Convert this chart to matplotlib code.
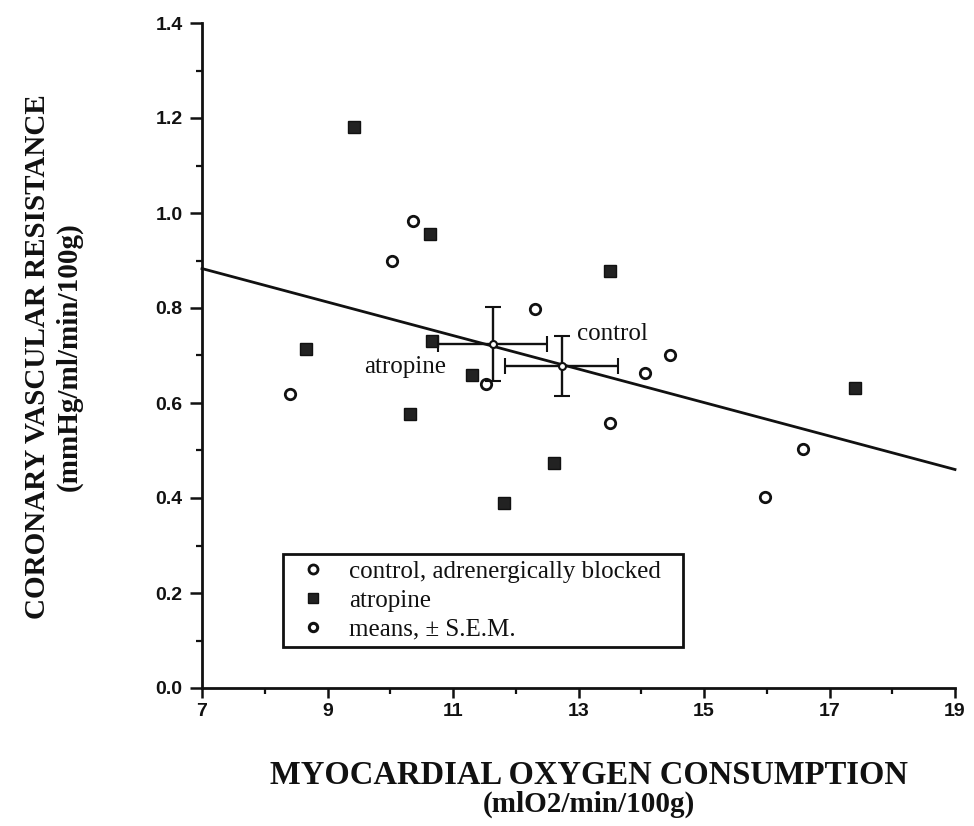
import matplotlib
matplotlib.use("Agg")
import matplotlib.pyplot as plt
from matplotlib.lines import Line2D
from matplotlib.ticker import MultipleLocator, FixedLocator

# ---------------- data ----------------
control_x = [10.36, 10.03, 12.31, 8.41, 11.53, 14.06, 14.46, 13.50, 16.58, 15.97]
control_y = [0.984, 0.898, 0.797, 0.619, 0.640, 0.664, 0.702, 0.557, 0.503, 0.403]

atropine_x = [9.42, 10.63, 13.50, 8.66, 10.66, 11.30, 10.31, 12.61, 11.81, 17.41]
atropine_y = [1.182, 0.955, 0.877, 0.713, 0.730, 0.660, 0.577, 0.473, 0.389, 0.632]

mean_labels = ["atropine", "control"]
mean_x = [11.63, 12.73]
mean_y = [0.724, 0.678]
mean_xerr = [0.875, 0.90]
mean_yerr = [0.078, 0.063]

fit_x = [7.0, 19.0]
fit_y = [0.883, 0.460]

x_ticks = [7, 9, 11, 13, 15, 17, 19]
x_ticklabels = ["7", "9", "11", "13", "15", "17", "19"]
y_ticks = [0.0, 0.2, 0.4, 0.6, 0.8, 1.0, 1.2, 1.4]
y_ticklabels = ["0.0", "0.2", "0.4", "0.6", "0.8", "1.0", "1.2", "1.4"]

x_title = "MYOCARDIAL OXYGEN CONSUMPTION"
x_units = "(mlO2/min/100g)"
y_title = "CORONARY VASCULAR RESISTANCE\n(mmHg/ml/min/100g)"

legend_labels = ["control, adrenergically blocked", "atropine", "means, \u00b1 S.E.M."]

# ---------------- figure ----------------
W, H = 974, 826
fig = plt.figure(figsize=(W / 100, H / 100), dpi=100)
fig.patch.set_facecolor("white")
ax = fig.add_axes([202 / W, 1 - 688 / H, 753 / W, (688 - 23) / H])
ax.set_xlim(7, 19)
ax.set_ylim(0, 1.4)

serif = "Liberation Serif"
sans = "Liberation Sans"
ink = "#111111"

# regression line
ax.plot(fit_x, fit_y, color=ink, lw=2.0, zorder=2, clip_on=False)

# scatter points
ax.plot(control_x, control_y, ls="none", marker="o", ms=7.5, mfc="white",
        mec=ink, mew=2.0, zorder=3)
ax.plot(atropine_x, atropine_y, ls="none", marker="s", ms=8, mfc="#222222",
        mec=ink, mew=1.0, zorder=3)

# means with error bars
ax.errorbar(mean_x, mean_y, xerr=mean_xerr, yerr=mean_yerr, fmt="o", ms=5,
            mfc="white", mec=ink, mew=1.5, ecolor=ink, elinewidth=1.7,
            capsize=6, capthick=1.7, zorder=4)

# mean labels
ax.annotate(mean_labels[0], xy=(mean_x[0], mean_y[0]), xytext=(-128, -23),
            textcoords="offset pixels", fontsize=18, family=serif,
            color=ink, va="center", ha="left")
ax.annotate(mean_labels[1], xy=(mean_x[1], mean_y[1]), xytext=(15, 32),
            textcoords="offset pixels", fontsize=18, family=serif,
            color=ink, va="center", ha="left")

# spines
for s in ["top", "right"]:
    ax.spines[s].set_visible(False)
for s in ["left", "bottom"]:
    ax.spines[s].set_linewidth(2.0)
    ax.spines[s].set_color(ink)

# ticks
ax.xaxis.set_major_locator(FixedLocator(x_ticks))
ax.set_xticklabels(x_ticklabels)
ax.xaxis.set_minor_locator(MultipleLocator(1))
ax.yaxis.set_major_locator(FixedLocator(y_ticks))
ax.set_yticklabels(y_ticklabels)
ax.yaxis.set_minor_locator(MultipleLocator(0.1))
ax.tick_params(axis="both", which="major", direction="out", width=1.8,
               color=ink, labelsize=14, labelcolor=ink)
ax.tick_params(axis="y", which="major", length=9, pad=5)
ax.tick_params(axis="x", which="major", length=7, pad=4)
ax.tick_params(axis="both", which="minor", direction="out", length=4.5,
               width=1.6, color=ink)
for lab in ax.get_xticklabels() + ax.get_yticklabels():
    lab.set_fontfamily(sans)
    lab.set_fontweight("bold")

# axis labels
ax.set_xlabel(x_title, fontsize=23.5, family=serif, fontweight="bold",
              color=ink)
ax.xaxis.set_label_coords((589 - 202) / 753, -(775 - 688) / 665)
ax.xaxis.label.set_va("center")
ax.text((589 - 202) / 753, -(804 - 688) / 665, x_units, transform=ax.transAxes,
        fontsize=21, family=serif, fontweight="bold", color=ink,
        ha="center", va="center")
ax.set_ylabel(y_title, fontsize=21, family=serif, fontweight="bold",
              color=ink, linespacing=1.2)
ax.yaxis.set_label_coords(-(202 - 53) / 753, (688 - 357) / 665)
ax.yaxis.label.set_va("center")

# legend
handles = [
    Line2D([], [], ls="none", marker="o", ms=6.5, mfc="white", mec=ink, mew=2.0),
    Line2D([], [], ls="none", marker="s", ms=7, mfc="#222222", mec=ink, mew=1.0),
    Line2D([], [], ls="none", marker="o", ms=6, mfc="white", mec=ink, mew=2.2),
]
leg = ax.legend(handles, legend_labels, loc="lower left",
                bbox_to_anchor=((283 - 202) / 753, (688 - 647) / 665,
                                (683 - 283) / 753, (647 - 547) / 665),
                mode="expand", frameon=True, fancybox=False, framealpha=1,
                edgecolor=ink, borderpad=0.25, labelspacing=0.26,
                handlelength=1.9, handletextpad=0.5, borderaxespad=0,
                prop={"family": serif, "size": 18})
leg.get_frame().set_linewidth(2.0)
for t in leg.get_texts():
    t.set_color(ink)

fig.savefig("out.png", dpi=100, facecolor="white")
